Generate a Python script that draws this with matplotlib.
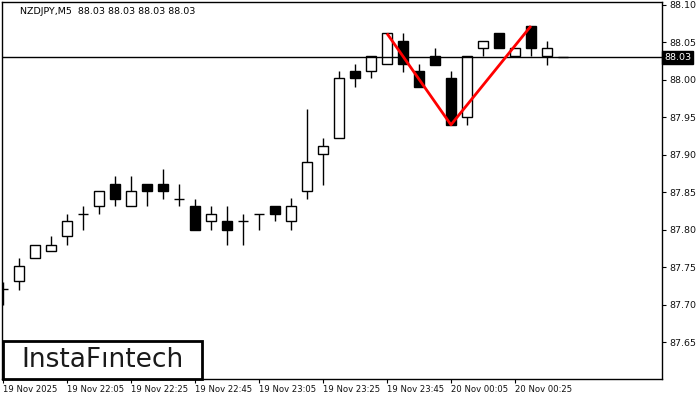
import matplotlib
matplotlib.use("Agg")
import matplotlib.pyplot as plt
import numpy as np
import pandas as pd

# 5-minute candles, NZDJPY, starting 19 Nov 2025 21:45
opens = [87.721, 87.731, 87.762, 87.771, 87.791, 87.821, 87.831, 87.861, 87.831, 87.861,
         87.861, 87.841, 87.831, 87.811, 87.812, 87.812, 87.821, 87.832, 87.811, 87.851,
         87.901, 87.922, 88.012, 88.012, 88.021, 88.052, 88.012, 88.032, 88.002, 87.951,
         88.042, 88.062, 88.032, 88.072, 88.032, 88.030]
highs = [87.730, 87.762, 87.780, 87.791, 87.821, 87.832, 87.851, 87.872, 87.872, 87.861,
         87.881, 87.861, 87.841, 87.831, 87.832, 87.821, 87.821, 87.832, 87.842, 87.961,
         87.922, 88.012, 88.021, 88.032, 88.062, 88.062, 88.021, 88.042, 88.012, 88.032,
         88.052, 88.062, 88.042, 88.072, 88.052, 88.030]
lows = [87.700, 87.720, 87.762, 87.771, 87.780, 87.800, 87.821, 87.831, 87.831, 87.831,
        87.841, 87.831, 87.800, 87.800, 87.780, 87.780, 87.800, 87.811, 87.800, 87.841,
        87.860, 87.922, 87.991, 88.002, 88.021, 88.011, 87.991, 88.020, 87.940, 87.940,
        88.032, 88.042, 88.032, 88.032, 88.020, 88.030]
closes = [87.721, 87.751, 87.780, 87.780, 87.812, 87.821, 87.851, 87.841, 87.851, 87.851,
          87.851, 87.841, 87.800, 87.821, 87.800, 87.812, 87.821, 87.821, 87.831, 87.891,
          87.912, 88.002, 88.002, 88.032, 88.062, 88.021, 87.991, 88.020, 87.940, 88.032,
          88.052, 88.042, 88.042, 88.042, 88.042, 88.030]
times = pd.date_range("2025-11-19 21:45", periods=len(opens), freq="5min")

# double-top pattern: bar index and price of the three pivots
pattern_idx = [24, 28, 33]
pattern_px = [88.062, 87.940, 88.072]

last_price = 88.03
yticks = [87.65, 87.70, 87.75, 87.80, 87.85, 87.90, 87.95, 88.00, 88.05, 88.10]

plt.rcParams.update({"font.family": "DejaVu Sans", "font.size": 6.5})

fig = plt.figure(figsize=(7, 4), dpi=100)
ax = fig.add_axes([2 / 700, 21 / 400, 660 / 700, 377 / 400])

o, h, l, c = map(np.array, (opens, highs, lows, closes))
x = np.arange(len(o))
w = 0.62
up = c > o
down = c < o
flat = c == o

ax.vlines(x, l, h, color="black", linewidth=1.0, zorder=1)
ax.bar(x[up], c[up] - o[up], bottom=o[up], width=w, color="white",
       edgecolor="black", linewidth=1.0, zorder=2)
ax.bar(x[down], o[down] - c[down], bottom=c[down], width=w, color="black",
       edgecolor="black", linewidth=1.0, zorder=2)
ax.hlines(o[flat], x[flat] - w / 2, x[flat] + w / 2, color="black", linewidth=1.0, zorder=2)

ax.axhline(last_price, color="black", linewidth=1.0, zorder=3)
ax.plot(pattern_idx, pattern_px, color="#ff0000", linewidth=2.0, zorder=4,
        solid_capstyle="butt")

ax.set_xlim(-0.06, 41.19)
ax.set_ylim(87.6006, 88.104)

ax.yaxis.tick_right()
ax.set_yticks(yticks)
ax.set_yticklabels([f"{v:.2f}" for v in yticks])
ax.tick_params(axis="y", direction="out", length=3, width=0.8, pad=2,
               labelsize=6.8, labelcolor="#111111")

xt = x[::4][:9]
ax.set_xticks(xt)
labels = [times[0].strftime("%d %b %Y")] + [t.strftime("%d %b %H:%M") for t in times[xt[1:]]]
ax.set_xticklabels(labels, ha="left")
ax.tick_params(axis="x", direction="out", length=3, width=0.8, pad=1,
               labelsize=6.1, labelcolor="#111111")

for s in ax.spines.values():
    s.set_linewidth(1.0)

# current price tag on the right scale
ax.text(1.003, last_price, f"{last_price:.2f}", transform=ax.get_yaxis_transform(),
        ha="left", va="center", color="white", fontsize=6.8,
        bbox=dict(boxstyle="square,pad=0.2", facecolor="black", edgecolor="black"))

ax.text(18 / 660, 1 - 9 / 377, "NZDJPY,M5  88.03 88.03 88.03 88.03",
        transform=ax.transAxes, ha="left", va="center", fontsize=6.8, color="black")

# logo box
fig.patches.append(plt.Rectangle((3 / 700, 21 / 400), 199 / 700, 38 / 400,
                                 transform=fig.transFigure, facecolor="white",
                                 edgecolor="black", linewidth=2, zorder=5))
fig.text(102 / 700, 40 / 400, "InstaFıntech", ha="center", va="center",
         fontsize=19, color="#1a1a1a", zorder=6)

fig.savefig("out.png", dpi=100)
